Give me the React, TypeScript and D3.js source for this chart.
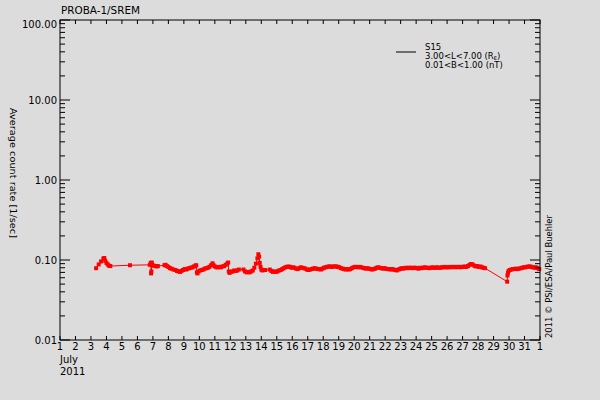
import * as d3 from "d3";

// PROBA-1/SREM, channel S15, July 2011 (day of month, average count rate [1/sec])
const samples: [number, number][] = [
  [3.33, 0.079], [3.5, 0.088], [3.65, 0.096], [3.8, 0.104], [3.86, 0.106], [3.92, 0.098],
  [4.0, 0.092], [4.08, 0.088], [4.16, 0.085], [4.25, 0.084], [5.52, 0.086],
  [6.8, 0.087], [6.86, 0.092], [6.88, 0.068], [6.9, 0.072], [6.93, 0.093], [6.98, 0.086],
  [7.05, 0.085], [7.15, 0.084], [7.25, 0.083], [7.32, 0.084],
  [7.75, 0.086], [7.82, 0.087], [7.9, 0.084], [8.0, 0.082], [8.1, 0.079], [8.2, 0.078],
  [8.32, 0.076], [8.45, 0.075], [8.55, 0.073], [8.65, 0.072], [8.75, 0.071], [8.85, 0.073],
  [8.95, 0.075], [9.05, 0.077], [9.15, 0.076], [9.25, 0.078], [9.35, 0.079], [9.45, 0.08],
  [9.55, 0.081], [9.65, 0.083], [9.75, 0.085], [9.8, 0.086], [9.84, 0.07], [9.88, 0.068],
  [9.95, 0.072], [10.05, 0.074], [10.15, 0.075], [10.25, 0.076], [10.35, 0.078], [10.45, 0.079],
  [10.55, 0.08], [10.65, 0.082], [10.75, 0.086], [10.85, 0.091], [10.92, 0.086], [11.0, 0.083],
  [11.1, 0.081], [11.2, 0.081], [11.3, 0.082], [11.4, 0.081], [11.5, 0.083], [11.6, 0.084],
  [11.7, 0.087], [11.8, 0.09], [11.86, 0.093], [11.9, 0.072], [11.95, 0.069], [12.05, 0.071],
  [12.15, 0.072], [12.25, 0.074], [12.35, 0.073], [12.45, 0.074], [12.55, 0.076],
  [12.85, 0.076], [12.95, 0.072], [13.05, 0.07], [13.15, 0.071], [13.25, 0.07], [13.35, 0.072],
  [13.45, 0.074], [13.55, 0.08], [13.65, 0.09], [13.75, 0.105], [13.81, 0.118], [13.86, 0.11],
  [13.9, 0.092], [13.95, 0.082], [14.0, 0.076], [14.08, 0.074], [14.1, 0.075], [14.25, 0.075],
  [14.55, 0.076], [14.65, 0.073], [14.75, 0.071], [14.85, 0.072], [14.95, 0.071], [15.05, 0.072],
  [15.15, 0.074], [15.25, 0.075], [15.35, 0.077], [15.45, 0.079], [15.55, 0.081], [15.65, 0.082],
  [15.75, 0.083], [15.85, 0.082], [15.95, 0.08], [16.05, 0.081], [16.15, 0.08], [16.25, 0.078],
  [16.35, 0.077], [16.45, 0.079], [16.55, 0.081], [16.65, 0.08], [16.75, 0.079], [16.85, 0.078],
  [16.95, 0.076], [17.05, 0.075], [17.15, 0.076], [17.25, 0.077], [17.35, 0.078], [17.45, 0.079],
  [17.55, 0.078], [17.65, 0.077], [17.75, 0.077], [17.85, 0.076], [17.95, 0.078], [18.05, 0.08],
  [18.15, 0.081], [18.25, 0.082], [18.35, 0.083], [18.45, 0.083], [18.55, 0.082], [18.65, 0.083],
  [18.75, 0.083], [18.85, 0.083], [18.95, 0.082], [19.05, 0.081], [19.15, 0.079], [19.25, 0.078],
  [19.35, 0.077], [19.45, 0.076], [19.55, 0.077], [19.65, 0.076], [19.75, 0.077], [19.85, 0.079],
  [19.95, 0.081], [20.05, 0.082], [20.15, 0.082], [20.25, 0.081], [20.35, 0.082], [20.45, 0.081],
  [20.55, 0.08], [20.65, 0.079], [20.75, 0.078], [20.85, 0.079], [20.95, 0.078], [21.05, 0.077],
  [21.15, 0.076], [21.25, 0.077], [21.35, 0.078], [21.45, 0.08], [21.55, 0.081], [21.65, 0.08],
  [21.75, 0.079], [21.85, 0.078], [21.95, 0.079], [22.05, 0.078], [22.15, 0.077], [22.25, 0.077],
  [22.35, 0.076], [22.45, 0.077], [22.55, 0.076], [22.65, 0.075], [22.75, 0.074], [22.85, 0.076],
  [22.95, 0.077], [23.05, 0.079], [23.15, 0.078], [23.25, 0.079], [23.35, 0.08], [23.45, 0.079],
  [23.55, 0.08], [23.65, 0.08], [23.75, 0.079], [23.85, 0.08], [23.95, 0.08], [24.05, 0.079],
  [24.15, 0.078], [24.25, 0.08], [24.35, 0.079], [24.45, 0.08], [24.55, 0.081], [24.65, 0.08],
  [24.75, 0.08], [24.85, 0.079], [24.95, 0.08], [25.05, 0.081], [25.15, 0.08], [25.25, 0.08],
  [25.35, 0.081], [25.45, 0.08], [25.55, 0.08], [25.65, 0.081], [25.75, 0.081], [25.85, 0.082],
  [25.95, 0.081], [26.05, 0.081], [26.15, 0.082], [26.25, 0.081], [26.35, 0.082], [26.45, 0.082],
  [26.55, 0.081], [26.65, 0.082], [26.75, 0.082], [26.85, 0.081], [26.95, 0.082], [27.05, 0.082],
  [27.15, 0.083], [27.25, 0.082], [27.35, 0.084], [27.45, 0.087], [27.55, 0.089], [27.65, 0.088],
  [27.75, 0.085], [27.85, 0.083], [27.95, 0.084], [28.05, 0.082], [28.15, 0.083], [28.25, 0.081],
  [28.35, 0.08], [28.45, 0.079],
  [29.88, 0.0536], [29.9, 0.064], [29.93, 0.069], [29.97, 0.073], [30.05, 0.075], [30.15, 0.076],
  [30.25, 0.077], [30.35, 0.077], [30.45, 0.078], [30.55, 0.077], [30.65, 0.078], [30.75, 0.079],
  [30.85, 0.08], [30.95, 0.081], [31.05, 0.081], [31.15, 0.082], [31.25, 0.083], [31.35, 0.083],
  [31.45, 0.082], [31.55, 0.081], [31.65, 0.08], [31.75, 0.081], [31.85, 0.079], [31.95, 0.077],
];

const dayTicks = d3.range(1, 33);
const dayLabels = dayTicks.map((d) => String(d > 31 ? d - 31 : d));
const decades = [0.01, 0.1, 1, 10, 100];
const decadeLabels = ["0.01", "0.10", "1.00", "10.00", "100.00"];
const legendLines = ["S15", "3.00<L<7.00 (R", "0.01<B<1.00 (nT)"];

const W = 600;
const H = 400;
const BG = "#dcdcdc";
const RED = "#ff0000";
const FONT = "'DejaVu Sans', sans-serif";

export default function App() {
  const x = d3.scaleLinear().domain([1, 32]).range([60, 540]);
  const y = d3.scaleLog().domain([0.01, 100]).range([340, 20]);
  const [x0, x1] = x.range();
  const [y0, y1] = y.range();

  const minor: number[] = [];
  decades.slice(0, -1).forEach((d) => {
    for (let k = 2; k <= 9; k++) minor.push(d * k);
  });

  const line = d3
    .line<[number, number]>()
    .x((d) => x(d[0]))
    .y((d) => y(d[1]));

  return (
    <div style={{ position: "absolute", left: 0, top: 0, width: W, height: H }}>
      <svg width={W} height={H} style={{ display: "block", background: BG }} fontFamily={FONT}>
        <rect width={W} height={H} fill={BG} />
        <text x={61} y={14} fontSize={10} textLength={79} lengthAdjust="spacingAndGlyphs">
          PROBA-1/SREM
        </text>

        {/* data */}
        <path d={line(samples) ?? ""} fill="none" stroke={RED} strokeWidth={1} />
        {samples.map((d, i) => (
          <rect key={i} x={x(d[0]) - 2} y={y(d[1]) - 2} width={4} height={4} fill={RED} />
        ))}

        {/* frame */}
        <rect x={x0} y={y1} width={x1 - x0} height={y0 - y1} fill="none" stroke="#000" strokeWidth={1} />

        {/* y ticks both sides */}
        {decades.map((d, i) => (
          <g key={"maj" + d}>
            <line x1={x0} x2={x0 + 10} y1={y(d)} y2={y(d)} stroke="#000" />
            <line x1={x1} x2={x1 - 10} y1={y(d)} y2={y(d)} stroke="#000" />
            <text x={57} y={y(d) + (i === decades.length - 1 ? 4 : 0)} dy="0.35em" textAnchor="end" fontSize={10}>
              {decadeLabels[i]}
            </text>
          </g>
        ))}
        {minor.map((d) => (
          <g key={"min" + d}>
            <line x1={x0} x2={x0 + 5} y1={y(d)} y2={y(d)} stroke="#000" />
            <line x1={x1} x2={x1 - 5} y1={y(d)} y2={y(d)} stroke="#000" />
          </g>
        ))}

        {/* x ticks top and bottom */}
        {dayTicks.map((d, i) => (
          <g key={"x" + d}>
            <line x1={x(d)} x2={x(d)} y1={y0} y2={y0 - 4} stroke="#000" />
            <line x1={x(d)} x2={x(d)} y1={y1} y2={y1 + 4} stroke="#000" />
            <text x={x(d)} y={350} textAnchor="middle" fontSize={10}>
              {dayLabels[i]}
            </text>
          </g>
        ))}
        <text x={60} y={363} fontSize={10}>July</text>
        <text x={60} y={375} fontSize={10}>2011</text>

        {/* axis title */}
        <text
          transform={`translate(10, ${(108 + 238) / 2}) rotate(90)`}
          textAnchor="middle"
          fontSize={9.5}
          textLength={130}
          lengthAdjust="spacingAndGlyphs"
        >
          Average count rate [1/sec]
        </text>

        {/* credit */}
        <text
          transform={`translate(552, 338) rotate(-90)`}
          fontSize={9}
          textLength={123}
          lengthAdjust="spacingAndGlyphs"
        >
          2011 © PSI/ESA/Paul Buehler
        </text>

        {/* legend */}
        <line x1={396} x2={416} y1={52} y2={52} stroke="#000" />
        <text x={425} y={50} fontSize={8.5}>{legendLines[0]}</text>
        <text x={425} y={58.5} fontSize={8.5}>
          {legendLines[1]}
          <tspan fontSize={5} dy={1}>E</tspan>
          <tspan dy={-1}>)</tspan>
        </text>
        <text x={425} y={68} fontSize={8.5}>{legendLines[2]}</text>
      </svg>
    </div>
  );
}
